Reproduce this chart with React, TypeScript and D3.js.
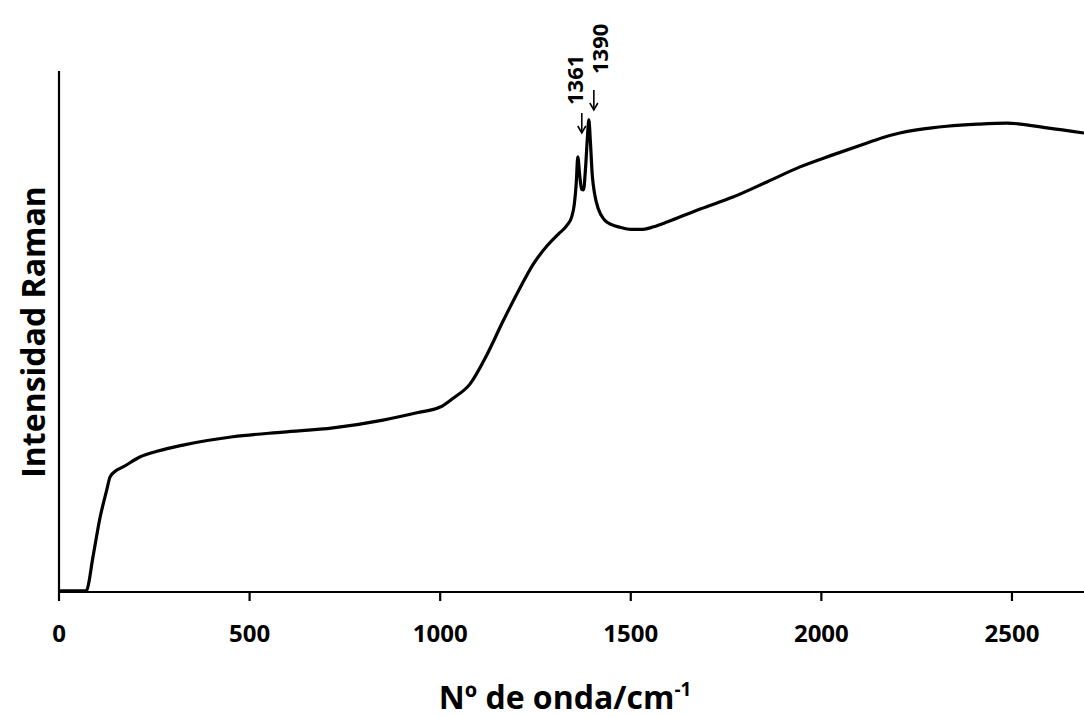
import React, { useRef, useEffect } from "react";
import * as d3 from "d3";

// Raman spectrum (wavenumber in cm-1, intensity in arbitrary units 0-100)
const wavenumber = [
  0, 68, 73, 89, 108, 125, 134, 150, 168, 212, 257, 325, 456, 588, 719, 850,
  939, 1000, 1034, 1078, 1123, 1165, 1209, 1243, 1280, 1310, 1333, 1345, 1352,
  1357, 1361, 1366, 1371, 1376, 1381, 1386, 1390, 1394, 1399, 1405, 1415, 1430,
  1450, 1472, 1500, 1532, 1560, 1595, 1640, 1682, 1768, 1857, 1944, 2030, 2120,
  2160, 2206, 2250, 2290, 2329, 2410, 2487, 2592, 2689,
];
const intensity = [
  0.2, 0.2, 0.4, 6.7, 14.4, 19.5, 22.1, 23.3, 24.0, 25.9, 27.0, 28.2, 29.8,
  30.7, 31.5, 33.0, 34.4, 35.5, 37.2, 39.9, 45.6, 52.0, 58.3, 62.8, 66.4, 68.7,
  70.4, 72.0, 74.5, 78.5, 83.5, 80.0, 77.3, 77.2, 81.0, 87.0, 90.6, 86.5, 80.0,
  76.5, 73.5, 71.5, 70.5, 70.0, 69.6, 69.6, 70.1, 71.0, 72.3, 73.5, 75.8, 78.7,
  81.6, 83.9, 86.2, 87.2, 88.1, 88.7, 89.1, 89.4, 89.8, 90.0, 89.1, 88.1,
];
const xTicks = [0, 500, 1000, 1500, 2000, 2500];
const peakLabels = [1361, 1390];

// annotation layout (pixels): arrow tip height, arrow x shift, text x shift, text gap
const arrowTipY = [133, 110];
const arrowDx = [4, 5];
const textDx = [5, 19];
const textGap = [28, 36];

const FONT = "'Open Sans', sans-serif";

function drawChart(el: SVGSVGElement) {
  const W = 1084;
  const H = 717;
  const svg = d3.select(el);
  svg.selectAll("*").remove();

  const x = d3.scaleLinear().domain([0, 2689]).range([59, 1084]);
  const y = d3.scaleLinear().domain([0, 100]).range([592, 71]);

  // axes
  svg
    .append("line")
    .attr("x1", x(0))
    .attr("x2", W)
    .attr("y1", y(0))
    .attr("y2", y(0))
    .attr("stroke", "#000")
    .attr("stroke-width", 2.2);
  svg
    .append("line")
    .attr("x1", x(0))
    .attr("x2", x(0))
    .attr("y1", y(0))
    .attr("y2", y(100))
    .attr("stroke", "#000")
    .attr("stroke-width", 2.2);

  const ticks = svg.append("g");
  ticks
    .selectAll("line")
    .data(xTicks)
    .enter()
    .append("line")
    .attr("x1", (d) => x(d))
    .attr("x2", (d) => x(d))
    .attr("y1", y(0))
    .attr("y2", y(0) + 9)
    .attr("stroke", "#000")
    .attr("stroke-width", 2.2);
  ticks
    .selectAll("text")
    .data(xTicks)
    .enter()
    .append("text")
    .attr("x", (d) => x(d))
    .attr("y", 642)
    .attr("text-anchor", "middle")
    .attr("font-family", FONT)
    .attr("font-weight", 700)
    .attr("font-size", 24)
    .text((d) => String(d));

  // spectrum
  const pts: [number, number][] = wavenumber.map((w, i) => [w, intensity[i]]);
  const line = d3
    .line<[number, number]>()
    .x((d) => x(d[0]))
    .y((d) => y(d[1]))
    .curve(d3.curveMonotoneX);
  svg
    .append("path")
    .attr("d", line(pts) as string)
    .attr("fill", "none")
    .attr("stroke", "#000")
    .attr("stroke-width", 3.2)
    .attr("stroke-linejoin", "round");

  // peak annotations
  const ann = svg.append("g");
  peakLabels.forEach((p, i) => {
    const ax = x(p) + arrowDx[i];
    const tipY = arrowTipY[i];
    ann
      .append("line")
      .attr("x1", ax)
      .attr("x2", ax)
      .attr("y1", tipY - 20)
      .attr("y2", tipY)
      .attr("stroke", "#000")
      .attr("stroke-width", 1.6);
    ann
      .append("path")
      .attr("d", `M${ax - 4},${tipY - 7} L${ax},${tipY} L${ax + 4},${tipY - 7}`)
      .attr("fill", "none")
      .attr("stroke", "#000")
      .attr("stroke-width", 1.6);
    ann
      .append("text")
      .attr(
        "transform",
        `translate(${x(p) + textDx[i]},${tipY - textGap[i]}) rotate(-90)`
      )
      .attr("font-family", FONT)
      .attr("font-weight", 700)
      .attr("font-size", 22)
      .text(String(p));
  });

  // axis titles
  const xt = svg
    .append("text")
    .attr("x", 565)
    .attr("y", 709)
    .attr("text-anchor", "middle")
    .attr("font-family", FONT)
    .attr("font-weight", 700)
    .attr("font-size", 32);
  xt.append("tspan").text("Nº de onda/cm");
  xt.append("tspan").attr("font-size", 19).attr("dy", -13).text("-1");

  svg
    .append("text")
    .attr("transform", `translate(45,${332}) rotate(-90)`)
    .attr("text-anchor", "middle")
    .attr("font-family", FONT)
    .attr("font-weight", 700)
    .attr("font-size", 32)
    .text("Intensidad Raman");

  svg.attr("width", W).attr("height", H);
}

export default function App() {
  const ref = useRef<SVGSVGElement>(null);
  useEffect(() => {
    document.body.style.margin = "0";
    if (ref.current == null) return;
    drawChart(ref.current);
  }, []);
  return (
    <svg
      ref={ref}
      width={1084}
      height={717}
      style={{ display: "block", background: "#fff" }}
    />
  );
}
